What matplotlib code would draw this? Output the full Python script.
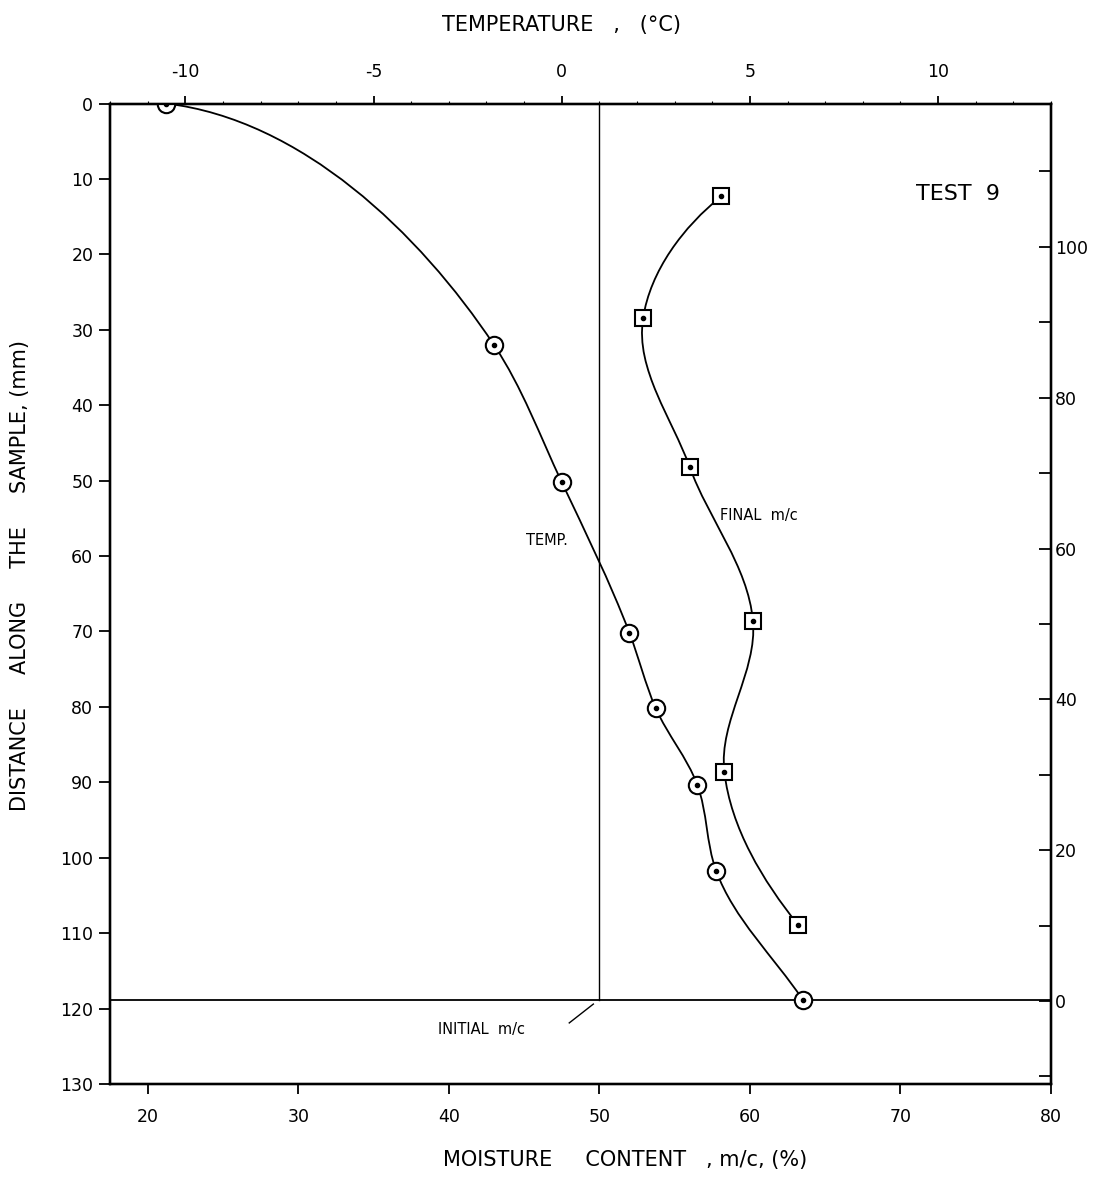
import numpy as np
import matplotlib
matplotlib.use("Agg")
import matplotlib.pyplot as plt
from matplotlib.path import Path
from matplotlib.patches import PathPatch

# temperature profile along the sample (top axis, deg C) vs depth (mm)
temp_c = [-10.5, -1.8, 0.0, 1.8, 2.5, 3.6, 4.1, 6.4]
temp_depth = [0.0, 32.0, 50.2, 70.2, 80.2, 90.3, 101.7, 118.8]

# final moisture content (bottom axis, %) vs depth (mm)
final_mc = [58.1, 52.9, 56.0, 60.2, 58.3, 63.2]
final_depth = [12.3, 28.5, 48.2, 68.6, 88.6, 108.9]

initial_mc = 50.0
sample_end = 118.8

mc_ticks = [20, 30, 40, 50, 60, 70, 80]
temp_ticks = [-10, -5, 0, 5, 10]
depth_ticks = list(range(0, 131, 10))
height_ticks = list(range(-10, 111, 10))
height_labels = ["", "0", "", "20", "", "40", "", "60", "", "80", "", "100", ""]

plt.rcParams['axes.unicode_minus'] = False
plt.rcParams['font.family'] = ['DejaVu Sans']


def unit(v):
    return v / np.hypot(*v)


def smooth_path(ax, xs, ys, start_dir=None, end_dir=None):
    # smooth curve through the points (bezier, Bessel tangents with
    # chord-length handles), worked out in display space.
    # start_dir / end_dir are (right, down) directions on the page
    tr = ax.transData
    p = tr.transform(np.column_stack([xs, ys]).astype(float))
    n = len(p)
    dirs = np.zeros_like(p)
    for i in range(1, n - 1):
        d0 = np.hypot(*(p[i] - p[i - 1]))
        d1 = np.hypot(*(p[i + 1] - p[i]))
        dirs[i] = unit(d1 * unit(p[i] - p[i - 1]) + d0 * unit(p[i + 1] - p[i]))
    dirs[0] = unit(p[1] - p[0]) if start_dir is None else unit(np.array(start_dir, float) * [1, -1])
    dirs[-1] = unit(p[-1] - p[-2]) if end_dir is None else unit(np.array(end_dir, float) * [1, -1])
    verts = [p[0]]
    codes = [Path.MOVETO]
    for i in range(n - 1):
        seg = np.hypot(*(p[i + 1] - p[i]))
        verts += [p[i] + dirs[i] * seg / 3, p[i + 1] - dirs[i + 1] * seg / 3, p[i + 1]]
        codes += [Path.CURVE4] * 3
    verts = tr.inverted().transform(np.array(verts))
    return Path(verts, codes)


fig = plt.figure(figsize=(10.96, 11.82), dpi=100)
ax = fig.add_axes([0.1004, 0.0829, 0.8586, 0.8295])
ax.set_xlim(17.5, 80)
ax.set_ylim(130, 0)

ax_t = ax.twiny()
ax_t.set_xlim(-12.0, 13.0)
ax_r = ax.twinx()
ax_r.set_ylim(119 - 130, 119 - 0)

for a in (ax, ax_t, ax_r):
    for s in a.spines.values():
        s.set_linewidth(1.6)

ax.set_xticks(mc_ticks)
ax.set_yticks(depth_ticks)
ax.tick_params(axis='x', direction='out', length=7, width=1.3, labelsize=12.5, pad=10)
ax.tick_params(axis='y', direction='out', length=8, width=1.3, labelsize=12.5, pad=4)

ax_t.set_xticks(temp_ticks)
ax_t.set_xticks(np.arange(-12, 13.1, 1), minor=True)
ax_t.tick_params(axis='x', which='major', direction='out', length=6, width=1.3, labelsize=12.5, pad=10)
ax_t.tick_params(axis='x', which='minor', direction='out', length=2.5, width=0.8)

ax_r.set_yticks(height_ticks)
ax_r.set_yticklabels(height_labels)
ax_r.tick_params(axis='y', direction='in', length=9, width=1.3, labelsize=12.5, pad=3)

# sample end and initial moisture content
ax.axhline(sample_end, color='black', lw=1.3, zorder=2)
ax.plot([initial_mc, initial_mc], [0, sample_end], color='black', lw=1.0, zorder=2)

# final moisture content curve
mc_path = smooth_path(ax, final_mc, final_depth, start_dir=(-1.0, 0.8), end_dir=(0.8, 1.0))
ax.add_patch(PathPatch(mc_path, facecolor='none', edgecolor='black', lw=1.3, zorder=3))
ax.plot(final_mc, final_depth, linestyle='none', marker='s', markersize=11,
        mfc='white', mec='black', mew=1.5, zorder=4)
ax.plot(final_mc, final_depth, linestyle='none', marker='o', markersize=3,
        color='black', zorder=5)

# temperature curve on the top axis
t_path = smooth_path(ax_t, temp_c, temp_depth, start_dir=(1.0, 0.12))
ax_t.add_patch(PathPatch(t_path, facecolor='none', edgecolor='black', lw=1.3, zorder=3))
ax_t.plot(temp_c, temp_depth, linestyle='none', marker='o', markersize=12.5,
          mfc='white', mec='black', mew=1.5, zorder=4)
ax_t.plot(temp_c, temp_depth, linestyle='none', marker='o', markersize=3,
          color='black', zorder=5)

# labels inside the plot
ax.text(71.0, 12.0, "TEST  9", fontsize=16, va='center', ha='left')
ax.text(58.0, 54.6, "FINAL  m/c", fontsize=10.5, va='center', ha='left')
ax.text(45.1, 57.9, "TEMP.", fontsize=10.5, va='center', ha='left')
ax.text(39.3, 122.8, "INITIAL  m/c", fontsize=10.5, va='center', ha='left')
ax.plot([48.0, 49.6], [121.9, 119.4], color='black', lw=1.0)

fig.text(0.512, 0.979, "TEMPERATURE   ,   (°C)", fontsize=15, ha='center', va='center')
fig.text(0.570, 0.019, "MOISTURE     CONTENT   , m/c, (%)", fontsize=15, ha='center', va='center')
fig.text(0.018, 0.513, "DISTANCE     ALONG     THE     SAMPLE, (mm)", fontsize=15,
         rotation=90, ha='center', va='center')

fig.savefig("out.png", dpi=100)
